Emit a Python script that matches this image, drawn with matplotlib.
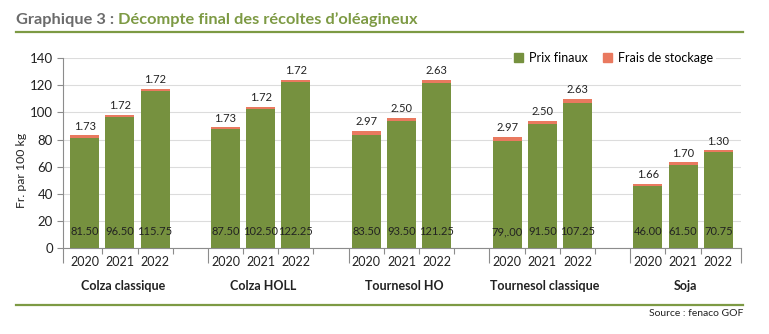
import numpy as np
import matplotlib
matplotlib.use('Agg')
import matplotlib.pyplot as plt
from matplotlib.patches import Patch
from matplotlib.lines import Line2D

plt.rcParams['font.family'] = ['Lato', 'DejaVu Sans']

# data
groups = ['Colza classique', 'Colza HOLL', 'Tournesol HO', 'Tournesol classique', 'Soja']
years = ['2020', '2021', '2022']
prix = [[81.50, 96.50, 115.75],
        [87.50, 102.50, 122.25],
        [83.50, 93.50, 121.25],
        [79.00, 91.50, 107.25],
        [46.00, 61.50, 70.75]]
frais = [[1.73, 1.72, 1.72],
         [1.73, 1.72, 1.72],
         [2.97, 2.50, 2.63],
         [2.97, 2.50, 2.63],
         [1.66, 1.70, 1.30]]
prix_labels = [['81.50', '96.50', '115.75'],
               ['87.50', '102.50', '122.25'],
               ['83.50', '93.50', '121.25'],
               ['79,.00', '91.50', '107.25'],
               ['46.00', '61.50', '70.75']]

GREEN = '#76913f'
SALMON = '#e9795f'
TXT = '#222222'
AXC = '#8c8c8c'
TITLE_GREEN = '#7d9a44'
TITLE_GRAY = '#6b6b6b'

W, H = 769, 334
fig = plt.figure(figsize=(W / 100, H / 100), dpi=100)
ax = fig.add_axes([63.3 / W, 1 - 248.3 / H, (741 - 63.3) / W, (248.3 - 58) / H])

xs = []
for g in range(len(groups)):
    for j in range(3):
        xs.append(4 * g + j)
xs = np.array(xs)
p = np.array(prix).ravel()
f = np.array(frais).ravel()

ax.bar(xs, p, width=0.82, color=GREEN, zorder=3)
ax.bar(xs, f, width=0.82, bottom=p, color=SALMON, zorder=3)

for x, pv, fv, lab in zip(xs, p, f, np.array(prix_labels).ravel()):
    ax.annotate(f'{fv:.2f}', (x, pv + fv), xytext=(0, 2.5), textcoords='offset points',
                ha='center', va='bottom', fontsize=8, color=TXT)
    ax.text(x, 12, lab, ha='center', va='center', fontsize=8, color=TXT, zorder=4)

x0, x1 = -0.608, 18.645
ax.set_xlim(x0, x1)
ax.set_ylim(0, 140)
ax.set_yticks(np.arange(0, 141, 20))
ax.tick_params(axis='y', labelsize=9.5, colors=AXC, labelcolor=TXT, length=4, width=0.8)
ax.yaxis.grid(True, color='#dcdcdc', linewidth=0.8, zorder=0)
ax.set_axisbelow(True)

# boundary ticks, long at group starts
short = [k + 0.5 for k in range(18) if (k + 1) % 4 != 0]
long_ = [x0] + [k + 0.5 for k in range(18) if (k + 1) % 4 == 0] + [x1]
ax.set_xticks(short)
ax.set_xticklabels([])
ax.set_xticks(long_, minor=True)
ax.tick_params(axis='x', which='major', length=4.5, width=0.8, colors=AXC)
ax.tick_params(axis='x', which='minor', length=11, width=0.8, colors=AXC)

for s in ['top', 'right']:
    ax.spines[s].set_visible(False)
ax.spines['left'].set_color(AXC)
ax.spines['bottom'].set_color(AXC)
ax.spines['left'].set_linewidth(0.8)
ax.spines['bottom'].set_linewidth(0.8)

# year and group labels
for g, name in enumerate(groups):
    for j, y in enumerate(years):
        ax.annotate(y, (4 * g + j, 0), xycoords=('data', 'axes fraction'),
                    xytext=(0, -10), textcoords='offset points',
                    ha='center', va='center', fontsize=9, color=TXT)
    ax.annotate(name, (4 * g + 1.08, 0), xycoords=('data', 'axes fraction'),
                xytext=(0, -27), textcoords='offset points',
                ha='center', va='center', fontsize=9, fontweight='bold', color=TXT)

fig.text(22 / W, 1 - 170 / H, 'Fr. par 100 kg', rotation=90, ha='center', va='center',
         fontsize=8.8, color=TXT)

handles = [Patch(color=GREEN, label='Prix finaux'), Patch(color=SALMON, label='Frais de stockage')]
leg = ax.legend(handles=handles, loc='center right', bbox_to_anchor=(0.972, 1.0),
                ncol=2, frameon=True, fontsize=9, handlelength=0.7, handleheight=0.7,
                handletextpad=0.5, columnspacing=1.2, borderpad=0.2)
leg.get_frame().set_edgecolor('none')
leg.get_frame().set_facecolor('white')
leg.get_frame().set_alpha(1)
leg.set_zorder(5)

# title
t1 = fig.text(16 / W, 1 - 20 / H, 'Graphique 3 : ', fontsize=11.8, fontweight='bold',
              color=TITLE_GRAY, ha='left', va='center')
fig.canvas.draw()
bb = t1.get_window_extent()
fig.text(bb.x1 / (W), 1 - 20 / H, 'Décompte final des récoltes d’oléagineux', fontsize=11.8,
         fontweight='bold', color=TITLE_GREEN, ha='left', va='center')

fig.add_artist(Line2D([16 / W, 743 / W], [1 - 32 / H, 1 - 32 / H], color=TITLE_GREEN, linewidth=1.6))
fig.add_artist(Line2D([16 / W, 743 / W], [1 - 305 / H, 1 - 305 / H], color=TITLE_GREEN, linewidth=1.6))
fig.text(743 / W, 1 - 314 / H, 'Source : fenaco GOF', fontsize=7.5, color=TXT, ha='right', va='center')

fig.savefig('out.png', dpi=100)
